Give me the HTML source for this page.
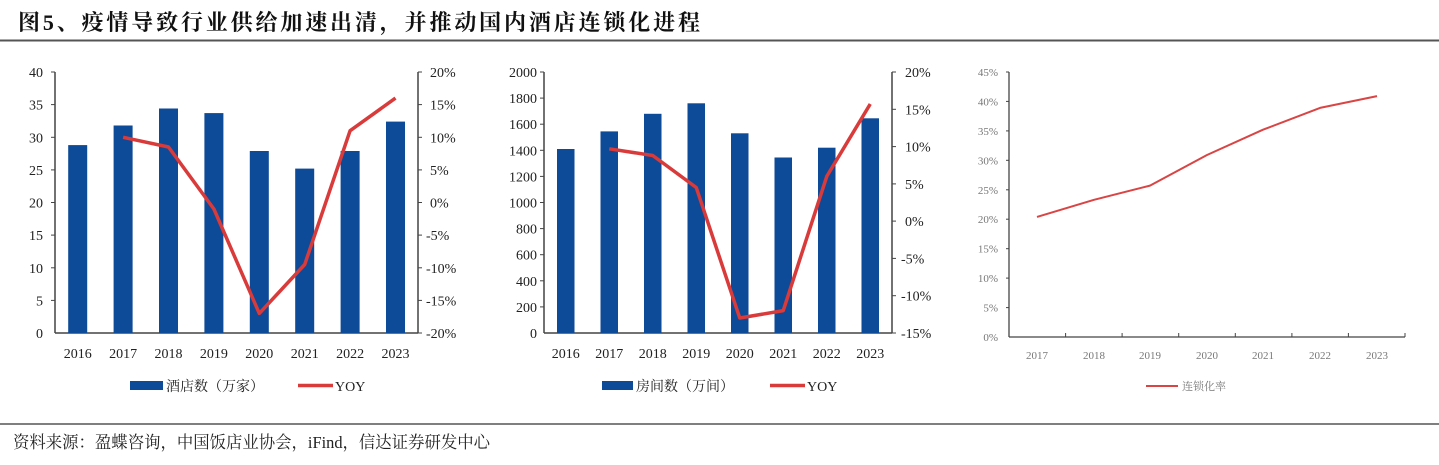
<!DOCTYPE html>
<html><head><meta charset="utf-8"><style>
html,body{margin:0;padding:0;background:#fff;}
svg{display:block;}
</style></head><body>
<svg width="1439" height="465" xmlns="http://www.w3.org/2000/svg" font-family="'Liberation Serif','Noto Serif CJK SC',serif">
<text x="18" y="30" font-size="22" font-weight="bold" fill="#111" textLength="682" lengthAdjust="spacing">图5、疫情导致行业供给加速出清，并推动国内酒店连锁化进程</text>
<line x1="0" y1="40.5" x2="1439" y2="40.5" stroke="#555" stroke-width="2"/>

<!-- Chart 1 -->
<g font-size="14" fill="#222">
<line x1="55" y1="72" x2="55" y2="333" stroke="#444" stroke-width="1.5"/>
<line x1="55" y1="333" x2="418" y2="333" stroke="#444" stroke-width="1.5"/>
<line x1="418" y1="72" x2="418" y2="333" stroke="#444" stroke-width="1.5"/>
<g stroke="#444">
<line x1="51" y1="72" x2="55" y2="72"/><line x1="51" y1="104.6" x2="55" y2="104.6"/><line x1="51" y1="137.3" x2="55" y2="137.3"/><line x1="51" y1="169.9" x2="55" y2="169.9"/><line x1="51" y1="202.5" x2="55" y2="202.5"/><line x1="51" y1="235.1" x2="55" y2="235.1"/><line x1="51" y1="267.8" x2="55" y2="267.8"/><line x1="51" y1="300.4" x2="55" y2="300.4"/>
<line x1="418" y1="72" x2="422" y2="72"/><line x1="418" y1="104.6" x2="422" y2="104.6"/><line x1="418" y1="137.3" x2="422" y2="137.3"/><line x1="418" y1="169.9" x2="422" y2="169.9"/><line x1="418" y1="202.5" x2="422" y2="202.5"/><line x1="418" y1="235.1" x2="422" y2="235.1"/><line x1="418" y1="267.8" x2="422" y2="267.8"/><line x1="418" y1="300.4" x2="422" y2="300.4"/><line x1="418" y1="333" x2="422" y2="333"/>
</g>
<g text-anchor="end">
<text x="43" y="77">40</text><text x="43" y="109.6">35</text><text x="43" y="142.3">30</text><text x="43" y="174.9">25</text><text x="43" y="207.5">20</text><text x="43" y="240.1">15</text><text x="43" y="272.8">10</text><text x="43" y="305.4">5</text><text x="43" y="338">0</text>
</g>
<g>
<text x="430" y="77">20%</text><text x="430" y="109.6">15%</text><text x="430" y="142.3">10%</text><text x="430" y="174.9">5%</text><text x="430" y="207.5">0%</text><text x="426" y="240.1">-5%</text><text x="426" y="272.8">-10%</text><text x="426" y="305.4">-15%</text><text x="426" y="338">-20%</text>
</g>
<g fill="#0d4a97">
<rect x="68.2" y="145.1" width="19" height="187.9"/><rect x="113.6" y="125.5" width="19" height="207.5"/><rect x="159" y="108.5" width="19" height="224.5"/><rect x="204.4" y="113.1" width="19" height="219.9"/><rect x="249.8" y="151" width="19" height="182"/><rect x="295.2" y="168.6" width="19" height="164.4"/><rect x="340.6" y="151" width="19" height="182"/><rect x="386" y="121.6" width="19" height="211.4"/>
</g>
<polyline points="123.1,137.3 168.5,147 213.9,209 259.3,313.4 304.7,264.5 350.1,130.7 395.5,98.1" fill="none" stroke="#d93a3a" stroke-width="3.5" stroke-linejoin="round"/>
<g text-anchor="middle">
<text x="77.7" y="358">2016</text><text x="123.1" y="358">2017</text><text x="168.5" y="358">2018</text><text x="213.9" y="358">2019</text><text x="259.3" y="358">2020</text><text x="304.7" y="358">2021</text><text x="350.1" y="358">2022</text><text x="395.5" y="358">2023</text>
</g>
<rect x="130" y="381" width="33" height="9" fill="#0d4a97"/>
<text x="166" y="391" font-size="14">酒店数（万家）</text>
<line x1="298" y1="385.5" x2="333" y2="385.5" stroke="#d93a3a" stroke-width="3.5"/>
<text x="335" y="391">YOY</text>
</g>

<!-- Chart 2 -->
<g font-size="14" fill="#222">
<line x1="544" y1="72" x2="544" y2="333" stroke="#444" stroke-width="1.5"/>
<line x1="544" y1="333" x2="892" y2="333" stroke="#444" stroke-width="1.5"/>
<line x1="892" y1="72" x2="892" y2="333" stroke="#444" stroke-width="1.5"/>
<g stroke="#444">
<line x1="540" y1="72" x2="544" y2="72"/><line x1="540" y1="98.1" x2="544" y2="98.1"/><line x1="540" y1="124.2" x2="544" y2="124.2"/><line x1="540" y1="150.3" x2="544" y2="150.3"/><line x1="540" y1="176.4" x2="544" y2="176.4"/><line x1="540" y1="202.5" x2="544" y2="202.5"/><line x1="540" y1="228.6" x2="544" y2="228.6"/><line x1="540" y1="254.7" x2="544" y2="254.7"/><line x1="540" y1="280.8" x2="544" y2="280.8"/><line x1="540" y1="306.9" x2="544" y2="306.9"/>
<line x1="892" y1="72" x2="896" y2="72"/><line x1="892" y1="109.3" x2="896" y2="109.3"/><line x1="892" y1="146.6" x2="896" y2="146.6"/><line x1="892" y1="183.9" x2="896" y2="183.9"/><line x1="892" y1="221.1" x2="896" y2="221.1"/><line x1="892" y1="258.4" x2="896" y2="258.4"/><line x1="892" y1="295.7" x2="896" y2="295.7"/><line x1="892" y1="333" x2="896" y2="333"/>
</g>
<g text-anchor="end">
<text x="537" y="77">2000</text><text x="537" y="103.1">1800</text><text x="537" y="129.2">1600</text><text x="537" y="155.3">1400</text><text x="537" y="181.4">1200</text><text x="537" y="207.5">1000</text><text x="537" y="233.6">800</text><text x="537" y="259.7">600</text><text x="537" y="285.8">400</text><text x="537" y="311.9">200</text><text x="537" y="338">0</text>
</g>
<g>
<text x="905" y="77">20%</text><text x="905" y="114.3">15%</text><text x="905" y="151.6">10%</text><text x="905" y="188.9">5%</text><text x="905" y="226.1">0%</text><text x="901" y="263.4">-5%</text><text x="901" y="300.7">-10%</text><text x="901" y="338">-15%</text>
</g>
<g fill="#0d4a97">
<rect x="557" y="149" width="17.5" height="184"/><rect x="600.5" y="131.4" width="17.5" height="201.6"/><rect x="644" y="113.8" width="17.5" height="219.2"/><rect x="687.5" y="103.3" width="17.5" height="229.7"/><rect x="731" y="133.3" width="17.5" height="199.7"/><rect x="774.5" y="157.5" width="17.5" height="175.5"/><rect x="818" y="147.7" width="17.5" height="185.3"/><rect x="861.5" y="118.3" width="17.5" height="214.7"/>
</g>
<polyline points="609.25,148.8 652.75,155.5 696.25,187.5 739.75,318 783.25,310.6 826.75,176.4 870.25,104" fill="none" stroke="#d93a3a" stroke-width="3.5" stroke-linejoin="round"/>
<g text-anchor="middle">
<text x="565.75" y="358">2016</text><text x="609.25" y="358">2017</text><text x="652.75" y="358">2018</text><text x="696.25" y="358">2019</text><text x="739.75" y="358">2020</text><text x="783.25" y="358">2021</text><text x="826.75" y="358">2022</text><text x="870.25" y="358">2023</text>
</g>
<rect x="602" y="381" width="31" height="9" fill="#0d4a97"/>
<text x="636" y="391">房间数（万间）</text>
<line x1="770" y1="385.5" x2="805" y2="385.5" stroke="#d93a3a" stroke-width="3.5"/>
<text x="807" y="391">YOY</text>
</g>

<!-- Chart 3 -->
<g font-size="11" fill="#777">
<line x1="1009" y1="72" x2="1009" y2="337" stroke="#444" stroke-width="1.3"/>
<line x1="1009" y1="337" x2="1405" y2="337" stroke="#444" stroke-width="1.3"/>
<g stroke="#444">
<line x1="1006" y1="72" x2="1009" y2="72"/><line x1="1006" y1="101.4" x2="1009" y2="101.4"/><line x1="1006" y1="130.9" x2="1009" y2="130.9"/><line x1="1006" y1="160.3" x2="1009" y2="160.3"/><line x1="1006" y1="189.8" x2="1009" y2="189.8"/><line x1="1006" y1="219.2" x2="1009" y2="219.2"/><line x1="1006" y1="248.7" x2="1009" y2="248.7"/><line x1="1006" y1="278.1" x2="1009" y2="278.1"/><line x1="1006" y1="307.6" x2="1009" y2="307.6"/>
<line x1="1065.6" y1="337" x2="1065.6" y2="333"/><line x1="1122.1" y1="337" x2="1122.1" y2="333"/><line x1="1178.7" y1="337" x2="1178.7" y2="333"/><line x1="1235.3" y1="337" x2="1235.3" y2="333"/><line x1="1291.9" y1="337" x2="1291.9" y2="333"/><line x1="1348.4" y1="337" x2="1348.4" y2="333"/><line x1="1405" y1="337" x2="1405" y2="333"/>
</g>
<g text-anchor="end">
<text x="998" y="76">45%</text><text x="998" y="105.4">40%</text><text x="998" y="134.9">35%</text><text x="998" y="164.3">30%</text><text x="998" y="193.8">25%</text><text x="998" y="223.2">20%</text><text x="998" y="252.7">15%</text><text x="998" y="282.1">10%</text><text x="998" y="311.6">5%</text><text x="998" y="341">0%</text>
</g>
<polyline points="1037,216.9 1094,199.8 1150,185.6 1207,155 1263,129.7 1320,107.9 1377,96.1" fill="none" stroke="#d94444" stroke-width="2" stroke-linejoin="round"/>
<g text-anchor="middle">
<text x="1037" y="359">2017</text><text x="1094" y="359">2018</text><text x="1150" y="359">2019</text><text x="1207" y="359">2020</text><text x="1263" y="359">2021</text><text x="1320" y="359">2022</text><text x="1377" y="359">2023</text>
</g>
<line x1="1146" y1="386" x2="1178" y2="386" stroke="#d94444" stroke-width="2"/>
<text x="1182" y="390">连锁化率</text>
</g>

<line x1="0" y1="424" x2="1439" y2="424" stroke="#555" stroke-width="1.5"/>
<text x="13" y="448" font-size="17" fill="#222" textLength="477" lengthAdjust="spacingAndGlyphs">资料来源：盈蝶咨询，中国饭店业协会，iFind，信达证券研发中心</text>
</svg>
</body></html>
